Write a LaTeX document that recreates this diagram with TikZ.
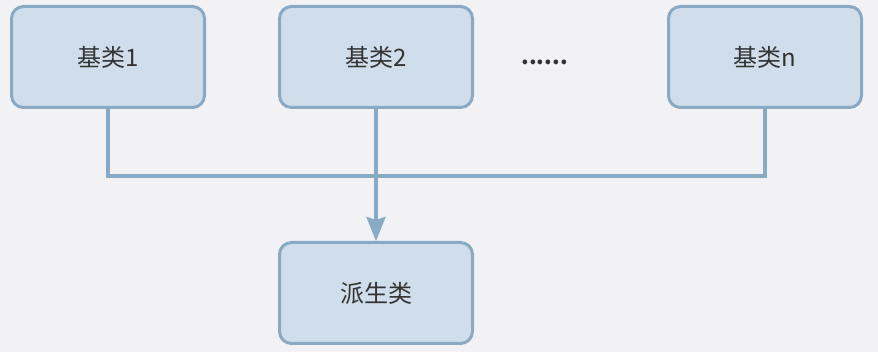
\documentclass[tikz,border=0pt]{standalone}
\usepackage{fontspec}
\setmainfont{Noto Sans CJK SC}
\usetikzlibrary{arrows.meta,positioning,calc}

\definecolor{bgcol}{HTML}{F2F2F5}
\definecolor{boxfill}{HTML}{CFDEEA}
\definecolor{boxline}{HTML}{89AAC4}
\definecolor{txtcol}{HTML}{333333}

\begin{document}
\begin{tikzpicture}[
  x=1pt, y=1pt,
  cls/.style={draw=boxline, fill=boxfill, line width=3pt, rounded corners=12pt, minimum width=193pt, minimum height=101pt, align=center, text=txtcol, font=\fontsize{24}{28}\selectfont},
  link/.style={draw=boxline, line width=3.5pt},
  arr/.style={link, -{Stealth[length=24pt, width=19pt, inset=3pt]}}
]
% background fixes the page size
\fill[bgcol] (0,0) rectangle (878,-352);
\useasboundingbox (0,0) rectangle (878,-352);

\node[cls] (base1) at (108,-57) {基类1};
\node[cls, right=72pt of base1] (base2) {基类2};
\node[cls, right=193pt of base2] (basen) {基类n};
\node[cls, below=132pt of base2] (derived) {派生类};
\node[right=44pt of base2, yshift=-5pt, text=txtcol, font=\fontsize{22}{26}\selectfont\bfseries] (dots) {......};

\draw[link] (base1.south) -- ++(0,-67) -| (basen.south);
\draw[arr] (base2.south) -- (derived.north);
\end{tikzpicture}
\end{document}
